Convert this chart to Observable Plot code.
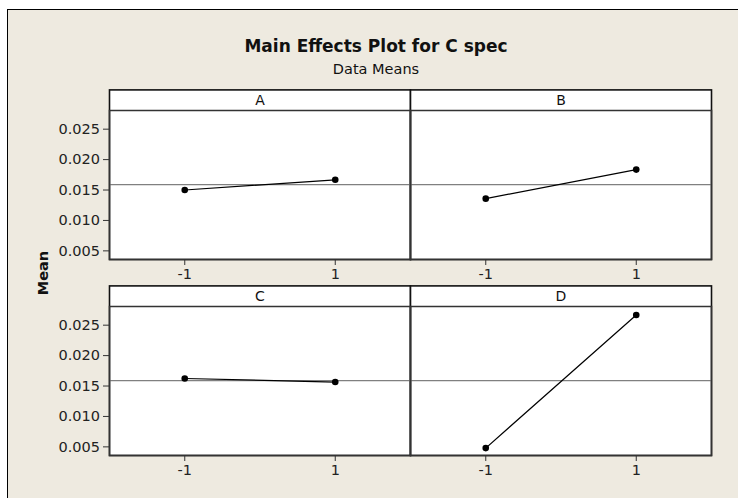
<!DOCTYPE html>
<html><head><meta charset="utf-8">
<script src="https://cdn.jsdelivr.net/npm/d3@7"></script>
<script src="https://cdn.jsdelivr.net/npm/@observablehq/plot@0.6"></script>
<style>
html,body{margin:0;background:#fff;overflow:hidden;}
#wrap{position:relative;width:738px;height:498px;overflow:hidden;background:#fff;font-family:"DejaVu Sans",sans-serif;color:#111;}
#bg{position:absolute;left:7px;top:9px;width:780px;height:540px;background:#EEEAE0;border-left:1.5px solid #000;border-top:1.5px solid #000;}
#title{position:absolute;left:0;width:752px;top:36px;text-align:center;font-weight:bold;font-size:17px;line-height:20px;}
#subtitle{position:absolute;left:0;width:752px;top:60px;text-align:center;font-size:14.5px;line-height:18px;}
#ylab{position:absolute;left:42.7px;top:273px;transform:translate(-50%,-50%) rotate(-90deg);font-weight:bold;font-size:14.5px;white-space:nowrap;}
#chart{position:absolute;left:0;top:0;}
</style></head><body>
<div id="wrap">
  <div id="bg"></div>
  <div id="title">Main Effects Plot for C spec</div>
  <div id="subtitle">Data Means</div>
  <div id="ylab">Mean</div>
  <div id="chart"></div>
</div>
<script>
// Factors and their levels
const factors = ["A", "B", "C", "D"];
const levels = [-1, 1];
// Mean of C spec at each level (-1, 1)
const meansA = [0.01500, 0.01668];
const meansB = [0.01358, 0.01836];
const meansC = [0.01624, 0.01565];
const meansD = [0.00480, 0.02668];
// Axis ticks
const yTicks = [0.005, 0.010, 0.015, 0.020, 0.025];
const xTicks = [-1, 1];

const meansByFactor = [meansA, meansB, meansC, meansD];
const panels = factors.map((f, i) => ({factor: f, col: i % 2, row: Math.floor(i / 2)}));
const rows = panels.flatMap((p, i) => levels.map((lv, j) => ({...p, level: lv, mean: meansByFactor[i][j]})));
const grandMean = d3.mean(rows, d => d.mean);

const chart = Plot.plot({
  width: 738,
  height: 498,
  marginLeft: 108.7,
  marginRight: 25.7,
  marginTop: 109.3,
  marginBottom: 42,
  style: {background: "transparent", fontFamily: "DejaVu Sans, sans-serif", fontSize: "14px", color: "#222"},
  x: {domain: [-2, 2]},
  y: {domain: [0.00358, 0.02807]},
  fx: {domain: [0, 1], padding: 0, axis: null},
  fy: {domain: [0, 1], padding: 0.2374, axis: null},
  marks: [
    Plot.frame({fill: "white", stroke: "#111", strokeWidth: 1.6, insetTop: -20.6}),
    Plot.ruleY([grandMean], {stroke: "#808080", strokeWidth: 1.3}),
    Plot.line(rows, {x: "level", y: "mean", z: "factor", fx: "col", fy: "row", stroke: "#000", strokeWidth: 1.2}),
    Plot.dot(rows, {x: "level", y: "mean", fx: "col", fy: "row", r: 3.3, fill: "#000"}),
    Plot.frame({stroke: "#333", strokeWidth: 1.5}),
    Plot.text(panels, {fx: "col", fy: "row", text: "factor", frameAnchor: "top", lineAnchor: "middle", dy: -10.3, fontSize: 14, fill: "#111"}),
    Plot.axisY({ticks: yTicks, tickFormat: d3.format(".3f"), tickSize: 6, tickPadding: 3.5, label: null, stroke: "#333", fontSize: 14.5, fill: "#222"}),
    Plot.axisX({ticks: xTicks, tickFormat: d => `${d}`, tickSize: 6, tickPadding: 3.5, label: null, stroke: "#333", fontSize: 14.5, fill: "#222", facetAnchor: null})
  ]
});
document.getElementById("chart").appendChild(chart);
</script>
</body></html>
